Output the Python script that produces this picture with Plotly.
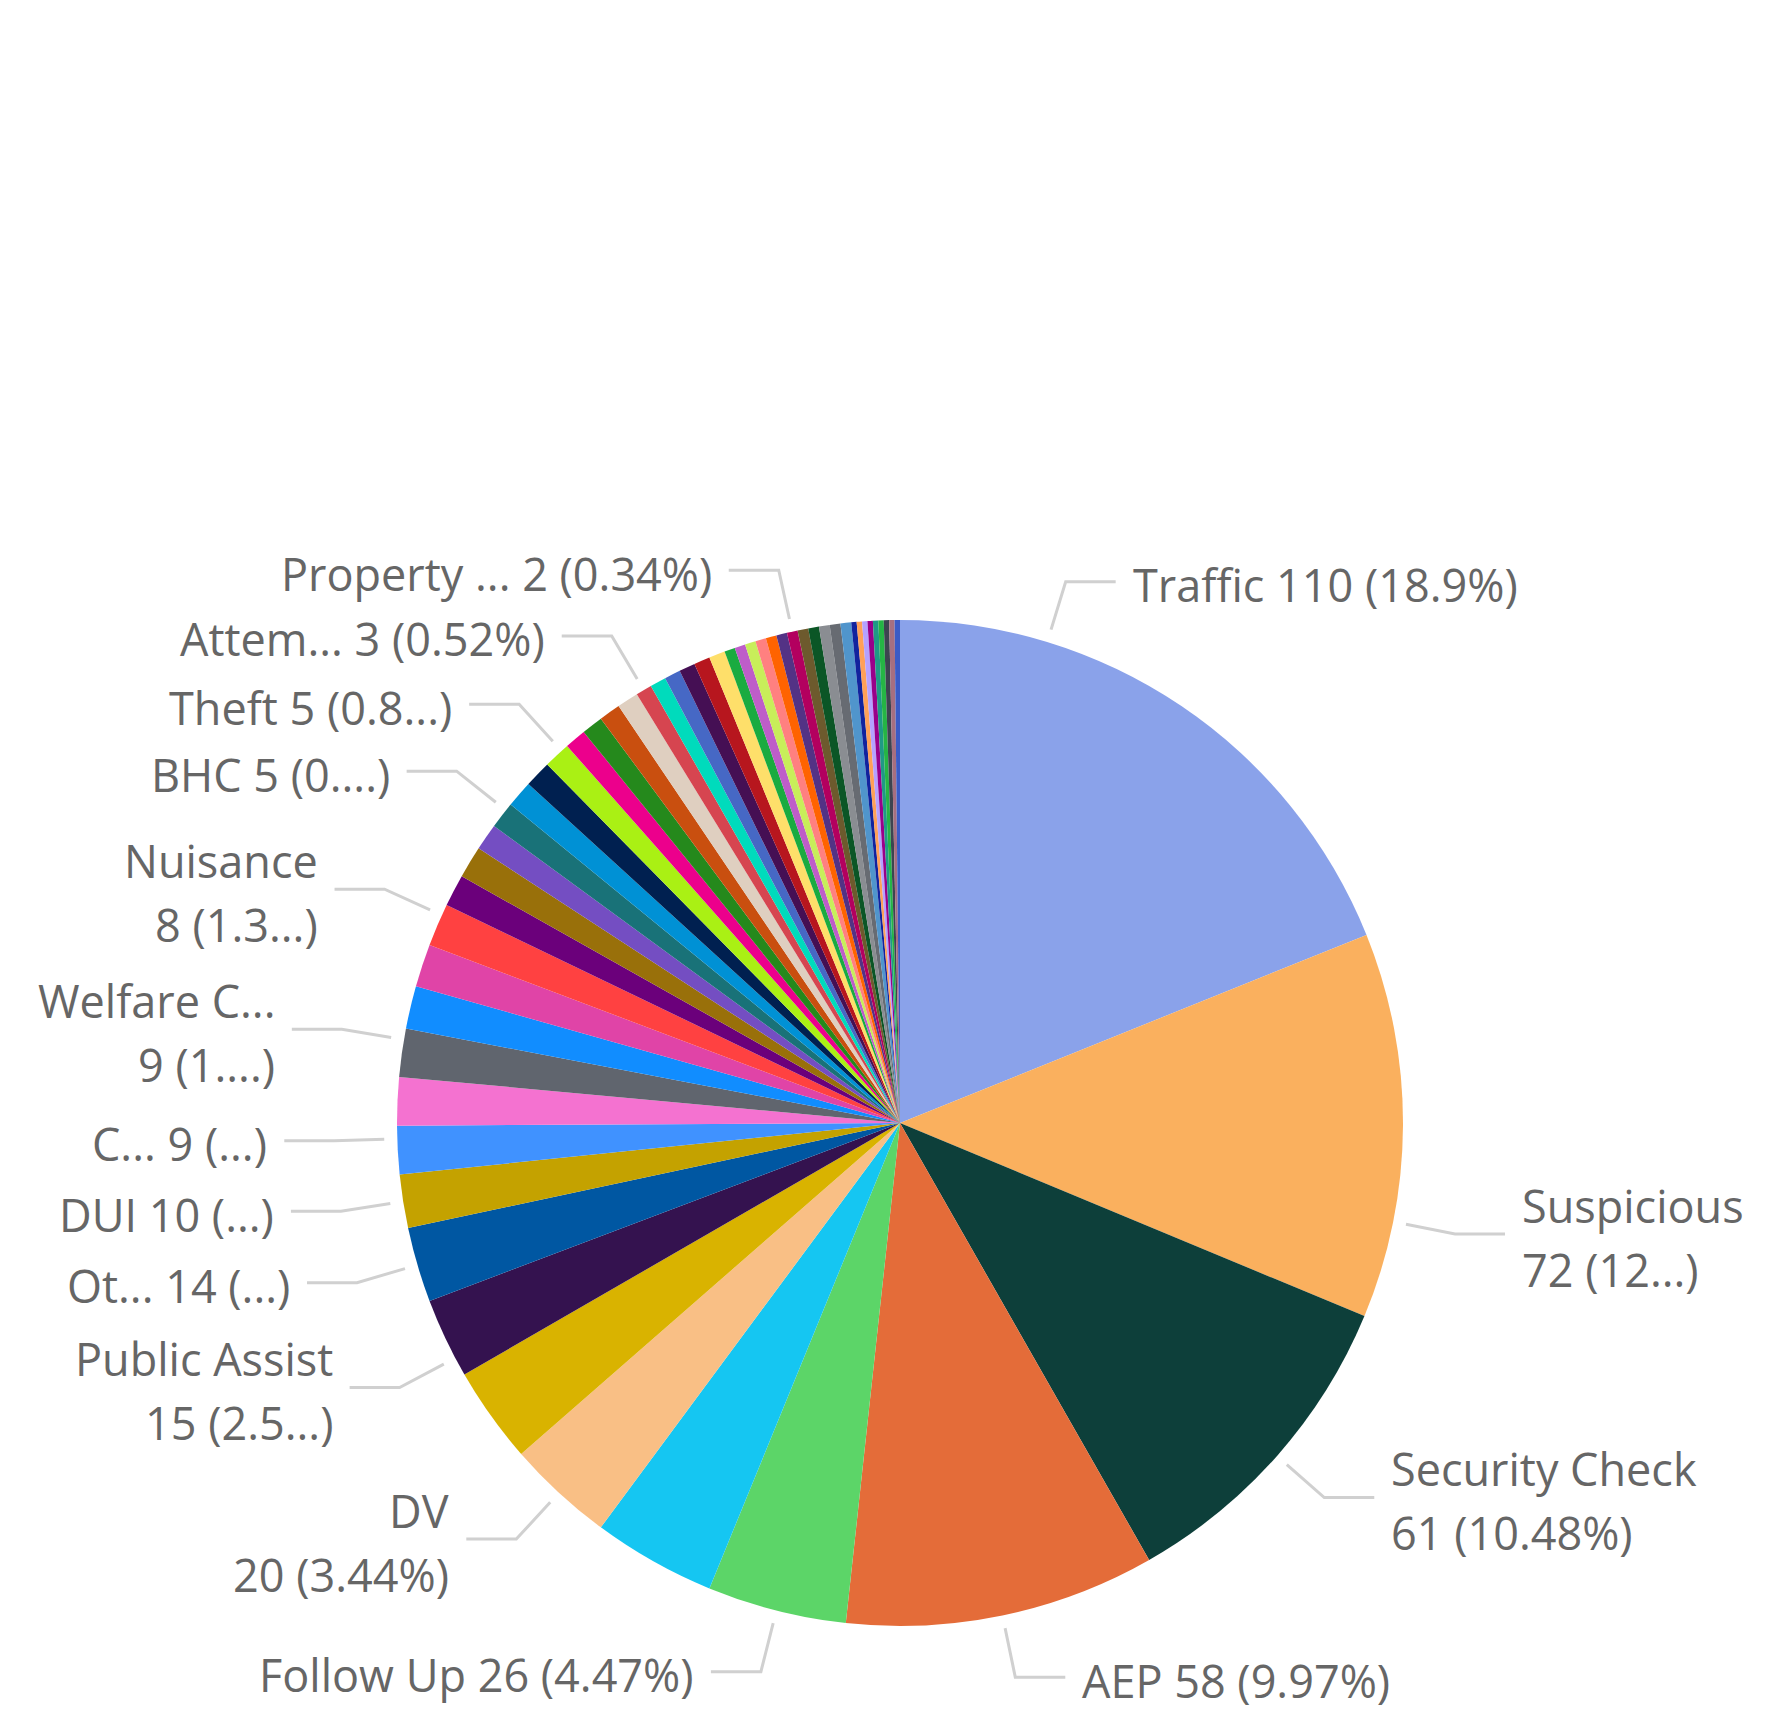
import numpy as np
import plotly.graph_objects as go

# ---- data -----------------------------------------------------------------
categories = [
    "Traffic", "Suspicious", "Security Check", "AEP", "Follow Up",
    "Type 06", "DV", "Type 08", "Public Assist", "Ot...", "DUI", "C...",
    "Type 13", "Welfare C...", "Type 15", "Type 16", "Nuisance", "Type 18",
    "Type 19", "Type 20", "BHC", "Type 22", "Type 23", "Theft", "Type 25",
    "Type 26", "Type 27", "Type 28", "Attem...", "Type 30", "Type 31",
    "Type 32", "Type 33", "Type 34", "Type 35", "Type 36", "Type 37",
    "Type 38", "Type 39", "Type 40", "Property ...", "Type 42", "Type 43",
    "Type 44", "Type 45", "Type 46", "Type 47", "Type 48", "Type 49",
    "Type 50", "Type 51", "Type 52", "Type 53", "Type 54", "Type 55",
]
values = [
    110, 72, 61, 58, 26,
    23, 20, 18, 15, 14, 10, 9,
    9, 9, 8, 8, 8, 6,
    6, 5, 5, 5, 5, 5, 4,
    4, 4, 4, 3, 3, 3,
    3, 3, 3, 2, 2, 2,
    2, 2, 2, 2, 2, 2,
    2, 2, 2, 1, 1, 1,
    1, 1, 1, 1, 1, 1,
]
colors = [
    "#8AA2EA", "#FAB05E", "#0D3F3A", "#E46C39", "#5CD568",
    "#15C6F2", "#F9BF85", "#D9B300", "#34124F", "#0057A2", "#C4A200", "#4092FF",
    "#F472D0", "#60656E", "#118DFF", "#E044A7", "#FF4141", "#6B007B",
    "#99700A", "#744EC2", "#197278", "#0091D5", "#002050", "#AAF014", "#EC008C",
    "#25891C", "#C94F0F", "#DFCFC0", "#D64550", "#00DBBC", "#4668C5",
    "#450F54", "#B7161E", "#FEDF6A", "#1AAB40", "#BE5DC9", "#C8EE5A",
    "#FF8080", "#FF6300", "#533285", "#B3005F", "#6D5A2D", "#0B5626",
    "#8A8D92", "#676B72", "#5095CC", "#12239E", "#FFA058", "#B5A1FF",
    "#99008A", "#1F9A85", "#25B545", "#3D4450", "#A66F80", "#3B5BC6",
]

# slices that carry a data label; percent text is cut to this many
# characters before the ellipsis (None = full percentage shown)
labelled = {
    "Traffic": None, "Suspicious": 2, "Security Check": None, "AEP": None,
    "Follow Up": None, "DV": None, "Public Assist": 3, "Ot...": 0,
    "DUI": 0, "C...": 0, "Welfare C...": 2, "Nuisance": 3, "BHC": 2,
    "Theft": 3, "Attem...": None, "Property ...": None,
}
two_line = {"Suspicious", "Security Check", "DV", "Public Assist",
            "Welfare C...", "Nuisance"}
# small angular shifts (degrees) of the leader lines to keep labels apart
leader_shift = {
    "Traffic": -17.0, "Suspicious": 11.0, "Public Assist": -2.5,
    "C...": 1.3, "Welfare C...": 1.5, "Nuisance": 1.2,
    "BHC": 0.7, "Theft": 0.7,
}

# ---- geometry ---------------------------------------------------------------
W, H = 1767, 1726
CX, CY, R = 900.0, 1123.0, 503.0
START_GAP, ELBOW_GAP, TAIL, TEXT_GAP = 13.0, 63.0, 50.0, 15.0
LINE_SEP = 64.0
TEXT_DY = 3.0

FONT = dict(family="Open Sans, Segoe UI, sans-serif", size=45, color="#666666")

vals = np.array(values, dtype=float)
total = vals.sum()
cum = np.cumsum(vals)
mid_deg = (cum - vals / 2.0) / total * 360.0


def polar(r, deg):
    t = np.radians(deg)
    return CX + r * np.sin(t), CY - r * np.cos(t)


def pct_text(v, keep):
    s = f"{v / total * 100:.2f}".rstrip("0").rstrip(".") + "%"
    if keep is None:
        return s
    return s[:keep] + "..."


fig = go.Figure()

fig.add_trace(go.Pie(
    labels=categories,
    values=values,
    marker=dict(colors=colors, line=dict(width=0)),
    sort=False,
    direction="clockwise",
    rotation=0,
    textinfo="none",
    hoverinfo="label+value+percent",
    showlegend=False,
    domain=dict(x=[(CX - R) / W, (CX + R) / W],
                y=[1 - (CY + R) / H, 1 - (CY - R) / H]),
))

lx, ly = [], []
annotations = []
for i, name in enumerate(categories):
    if name not in labelled:
        continue
    deg = mid_deg[i] + leader_shift.get(name, 0.0)
    x0, y0 = polar(R + START_GAP, deg)
    x1, y1 = polar(R + ELBOW_GAP, deg)
    side = 1 if np.sin(np.radians(deg)) > 0 else -1
    x2 = x1 + side * TAIL
    lx += [x0, x1, x2, None]
    ly += [y0, y1, y1, None]

    num = f"{values[i]} ({pct_text(values[i], labelled[name])})"
    tx = x2 + side * TEXT_GAP
    ty0 = y1 + TEXT_DY
    anchor = "left" if side > 0 else "right"
    if name in two_line:
        rows = [(name, ty0 - LINE_SEP / 2), (num, ty0 + LINE_SEP / 2)]
    else:
        rows = [(f"{name} {num}", ty0)]
    for txt, ty in rows:
        annotations.append(dict(
            x=tx, y=ty, xref="x", yref="y", text=txt, showarrow=False,
            xanchor=anchor, yanchor="middle", font=FONT, align=anchor,
        ))

fig.add_trace(go.Scatter(
    x=lx, y=ly, mode="lines",
    line=dict(color="#D0D0D0", width=3),
    hoverinfo="skip", showlegend=False,
))

fig.update_layout(
    width=W, height=H,
    margin=dict(l=0, r=0, t=0, b=0),
    paper_bgcolor="white", plot_bgcolor="white",
    xaxis=dict(range=[0, W], visible=False, fixedrange=True),
    yaxis=dict(range=[H, 0], visible=False, fixedrange=True),
    annotations=annotations,
)

fig.write_html("out.html")
